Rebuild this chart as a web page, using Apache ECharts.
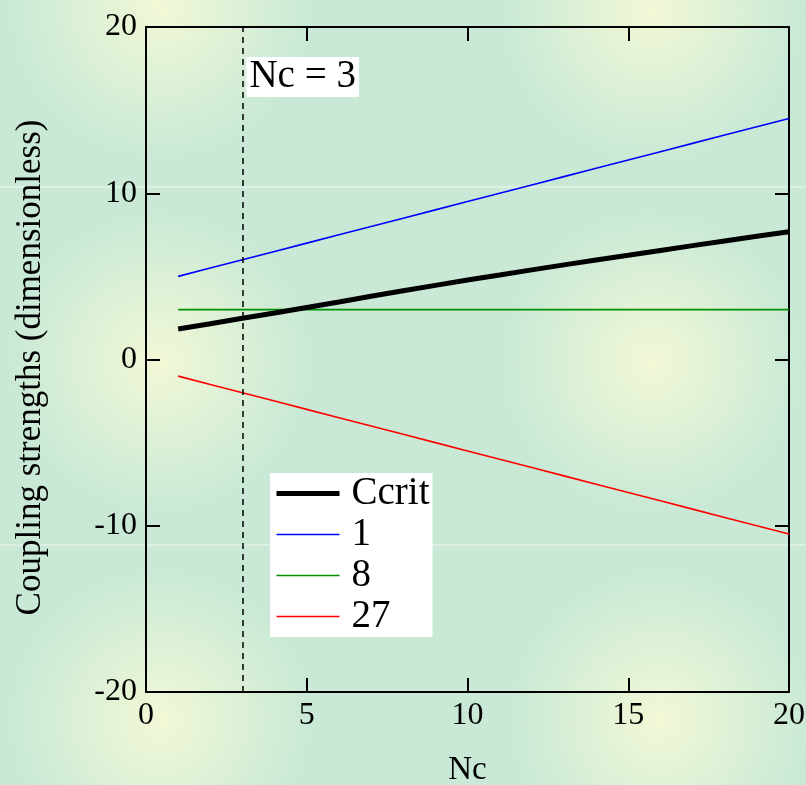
<!DOCTYPE html>
<html>
<head>
<meta charset="utf-8">
<script src="https://cdn.jsdelivr.net/npm/echarts@6/dist/echarts.min.js"></script>
<style>
html, body { margin: 0; padding: 0; }
body {
  width: 806px; height: 785px; overflow: hidden;
  background-color: #c9e9d6;
  background-image:
    linear-gradient(to bottom, rgba(255,255,255,0) 186px, rgba(255,255,255,0.35) 186px, rgba(255,255,255,0.35) 188px, rgba(255,255,255,0) 188px, rgba(255,255,255,0) 544px, rgba(255,255,255,0.35) 544px, rgba(255,255,255,0.35) 546px, rgba(255,255,255,0) 546px),
    radial-gradient(circle 150px at 160px 8px, rgba(242,248,214,1), rgba(201,233,214,0)),
    radial-gradient(circle 150px at 652px 12px, rgba(242,248,214,1), rgba(201,233,214,0)),
    radial-gradient(circle 150px at 160px 362px, rgba(242,248,214,1), rgba(201,233,214,0)),
    radial-gradient(circle 150px at 652px 362px, rgba(242,248,214,1), rgba(201,233,214,0)),
    radial-gradient(circle 150px at 160px 720px, rgba(242,248,214,1), rgba(201,233,214,0)),
    radial-gradient(circle 150px at 660px 720px, rgba(242,248,214,1), rgba(201,233,214,0));
}
#chart { width: 806px; height: 785px; }
</style>
</head>
<body>
<div id="chart"></div>
<script>
// ---- data ----
var nc = [1, 2, 3, 4, 5, 6, 7, 8, 9, 10, 11, 12, 13, 14, 15, 16, 17, 18, 19, 20];
var ccrit = [1.83, 2.15, 2.48, 2.80, 3.13, 3.46, 3.80, 4.14, 4.46, 4.78, 5.08, 5.39, 5.69, 5.99, 6.27, 6.56, 6.85, 7.13, 7.41, 7.69];
var c1  = [5.0, 5.5, 6.0, 6.5, 7.0, 7.5, 8.0, 8.5, 9.0, 9.5, 10.0, 10.5, 11.0, 11.5, 12.0, 12.5, 13.0, 13.5, 14.0, 14.5];
var c8  = [3, 3, 3, 3, 3, 3, 3, 3, 3, 3, 3, 3, 3, 3, 3, 3, 3, 3, 3, 3];
var c27 = [-1.0, -1.5, -2.0, -2.5, -3.0, -3.5, -4.0, -4.5, -5.0, -5.5, -6.0, -6.5, -7.0, -7.5, -8.0, -8.5, -9.0, -9.5, -10.0, -10.5];
var seriesNames = ['Ccrit', '1', '8', '27'];
var ncMarker = 3;
var xTicks = [0, 5, 10, 15, 20];
var yTicks = [-20, -10, 0, 10, 20];

function pairs(ys) { return nc.map(function (x, i) { return [x, ys[i]]; }); }

var FONT = "'Liberation Serif', 'Times New Roman', serif";
var axisLine = { show: true, onZero: false, lineStyle: { color: '#000', width: 2 } };
var tick = { show: true, inside: true, length: 14, lineStyle: { color: '#000', width: 2 } };
var lineWidths = [5, 1.6, 1.6, 1.6];
var lineColors = ['#000000', '#0000ff', '#009000', '#ff0000'];

var chart = echarts.init(document.getElementById('chart'), null, { renderer: 'canvas' });
chart.setOption({
  backgroundColor: 'transparent',
  animation: false,
  grid: { left: 146, right: 17, top: 27, bottom: 93, containLabel: false, outerBoundsMode: 'none' },
  xAxis: [{
    type: 'value', min: xTicks[0], max: xTicks[xTicks.length - 1], interval: 5,
    name: 'Nc', nameLocation: 'middle', nameGap: 62,
    nameTextStyle: { fontFamily: FONT, fontSize: 33, color: '#000' },
    axisLine: axisLine, axisTick: tick, splitLine: { show: false },
    axisLabel: { fontFamily: FONT, fontSize: 32, color: '#000', margin: 8 }
  }, {
    type: 'value', position: 'top', min: xTicks[0], max: xTicks[xTicks.length - 1], interval: 5,
    axisLine: axisLine, axisTick: tick, splitLine: { show: false }, axisLabel: { show: false }
  }],
  yAxis: [{
    type: 'value', min: yTicks[0], max: yTicks[yTicks.length - 1], interval: 10,
    name: 'Coupling strengths (dimensionless)', nameLocation: 'middle', nameGap: 98,
    nameTextStyle: { fontFamily: FONT, fontSize: 35, color: '#000', padding: [0, 16, 0, 0] },
    axisLine: axisLine, axisTick: tick, splitLine: { show: false },
    axisLabel: { fontFamily: FONT, fontSize: 32, color: '#000', margin: 9 }
  }, {
    type: 'value', position: 'right', min: yTicks[0], max: yTicks[yTicks.length - 1], interval: 10,
    axisLine: axisLine, axisTick: tick, splitLine: { show: false }, axisLabel: { show: false }
  }],
  legend: {
    show: true,
    left: 270, top: 473,
    orient: 'vertical',
    backgroundColor: '#fff',
    padding: [0, 3, 0, 4],
    itemGap: 0,
    itemWidth: 63, itemHeight: 41,
    itemStyle: { opacity: 0 },
    data: seriesNames.map(function (n, i) {
      return { name: n, lineStyle: { width: lineWidths[i], color: lineColors[i] }, itemStyle: { opacity: 0 } };
    }),
    textStyle: { fontFamily: FONT, fontSize: 39, color: '#000', lineHeight: 41, padding: [0, 0, 0, 7] }
  },
  series: [{
    name: seriesNames[0], type: 'line', data: pairs(ccrit), showSymbol: false, symbol: 'none',
    lineStyle: { color: lineColors[0], width: lineWidths[0] }, itemStyle: { color: lineColors[0] }, z: 5,
    markLine: {
      silent: true, symbol: 'none',
      lineStyle: { color: '#000', type: [6, 5], width: 1.5 },
      label: { show: false },
      data: [{ xAxis: ncMarker }]
    },
    markPoint: {
      symbol: 'rect', symbolSize: 0,
      data: [{ coord: [ncMarker, yTicks[yTicks.length - 1]] }],
      label: {
        show: true, position: [4, 30], formatter: 'Nc = ' + ncMarker,
        fontFamily: FONT, fontSize: 39, color: '#000',
        backgroundColor: '#fff', padding: [0, 3, 0, 3], lineHeight: 40
      }
    }
  }, {
    name: seriesNames[1], type: 'line', data: pairs(c1), showSymbol: false, symbol: 'none',
    lineStyle: { color: lineColors[1], width: lineWidths[1] }, itemStyle: { color: lineColors[1] }
  }, {
    name: seriesNames[2], type: 'line', data: pairs(c8), showSymbol: false, symbol: 'none',
    lineStyle: { color: lineColors[2], width: lineWidths[2] }, itemStyle: { color: lineColors[2] }
  }, {
    name: seriesNames[3], type: 'line', data: pairs(c27), showSymbol: false, symbol: 'none',
    lineStyle: { color: lineColors[3], width: lineWidths[3] }, itemStyle: { color: lineColors[3] }
  }]
});
</script>
</body>
</html>
